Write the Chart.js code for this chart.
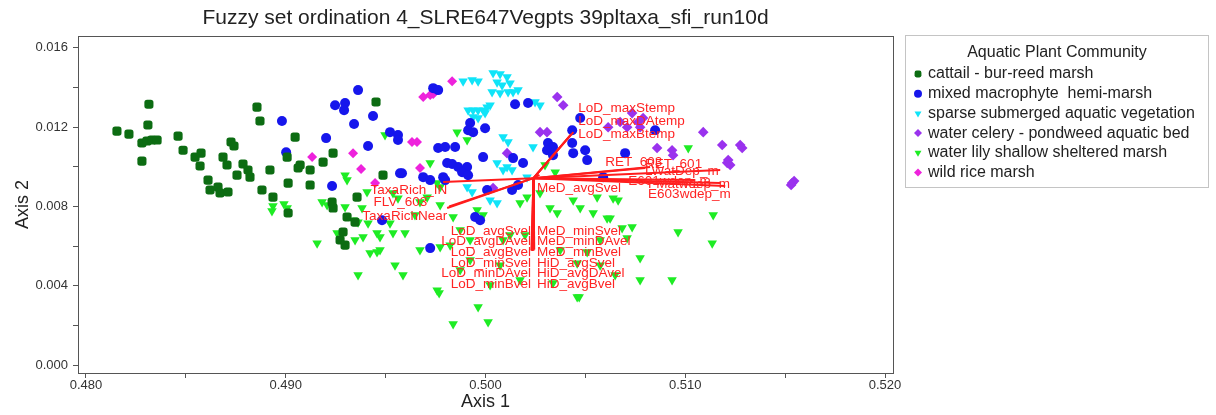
<!DOCTYPE html>
<html>
<head>
<meta charset="utf-8">
<script src="https://cdn.jsdelivr.net/npm/chart.js@4"></script>
<style>
  body { margin: 0; background: #fff; }
  canvas { display: block; }
</style>
</head>
<body>
<canvas id="ordChart" width="1216" height="415"></canvas>
<script>
// axis ticks
const xTicks = [0.480, 0.485, 0.490, 0.495, 0.500, 0.505, 0.510, 0.515, 0.520];
const yTicks = [0.000, 0.002, 0.004, 0.006, 0.008, 0.010, 0.012, 0.014, 0.016];

const communities = [
    "cattail - bur-reed marsh",
    "mixed macrophyte  hemi-marsh",
    "sparse submerged aquatic vegetation",
    "water celery - pondweed aquatic bed",
    "water lily shallow sheltered marsh",
    "wild rice marsh"
];

// plot scores (Axis 1, Axis 2)
const cattail = [
    [0.48155,0.01180],[0.48215,0.01165],[0.48310,0.01211],[0.48315,0.01316],[0.48280,0.01120],[0.48305,0.01130],
    [0.48330,0.01135],[0.48356,0.01135],[0.48280,0.01029],[0.48856,0.01301],[0.48871,0.01231],[0.48461,0.01155],
    [0.48486,0.01084],[0.48546,0.01049],[0.48576,0.01069],[0.48571,0.01004],[0.48726,0.01125],[0.48741,0.01105],
    [0.48686,0.01049],[0.48706,0.01009],[0.48786,0.01014],[0.48756,0.00958],[0.48811,0.00984],[0.48821,0.00948],
    [0.48611,0.00933],[0.48621,0.00883],[0.48661,0.00898],[0.48671,0.00868],[0.48711,0.00873],[0.48921,0.00984],
    [0.48881,0.00883],[0.48936,0.00847],[0.49012,0.00918],[0.49012,0.00767],[0.49047,0.01150],[0.49007,0.01049],
    [0.49072,0.01009],[0.49062,0.00994],[0.49122,0.00984],[0.49122,0.00908],[0.49187,0.01024],[0.49237,0.01069],
    [0.49232,0.00822],[0.49237,0.00792],[0.49307,0.00747],[0.49287,0.00671],[0.49272,0.00631],[0.49357,0.00847],
    [0.49452,0.01327],[0.49487,0.00958],[0.49347,0.00721],[0.49297,0.00605]
];
const mixedMacrophyte = [
    [0.49362,0.01387],[0.49247,0.01311],[0.49297,0.01322],[0.49292,0.01286],[0.48981,0.01231],[0.49342,0.01216],
    [0.49202,0.01145],[0.49002,0.01074],[0.49412,0.01105],[0.49232,0.00903],[0.49437,0.01256],[0.49738,0.01397],
    [0.49763,0.01387],[0.50148,0.01316],[0.50213,0.01322],[0.49522,0.01175],[0.49562,0.01160],[0.49562,0.01135],
    [0.49923,0.01221],[0.49913,0.01185],[0.49938,0.01175],[0.49998,0.01195],[0.49763,0.01095],[0.49798,0.01100],
    [0.49848,0.01100],[0.49808,0.01019],[0.49833,0.01014],[0.49863,0.00999],[0.49908,0.00999],[0.49883,0.00973],
    [0.49913,0.00958],[0.49788,0.00948],[0.49798,0.00933],[0.49688,0.00948],[0.49723,0.00933],[0.49582,0.00968],
    [0.49988,0.01049],[0.50138,0.01044],[0.50188,0.01019],[0.50313,0.01120],[0.50338,0.01100],[0.50308,0.01084],
    [0.50434,0.01120],[0.50499,0.01084],[0.50434,0.01185],[0.50699,0.01069],[0.50849,0.01185],[0.50474,0.01246],
    [0.50008,0.00883],[0.50133,0.00883],[0.50163,0.00908],[0.49948,0.00747],[0.49973,0.00731],[0.49723,0.00590],
    [0.49482,0.00731],[0.50338,0.01059],[0.50439,0.01069],[0.50509,0.01034],[0.50589,0.00948],[0.49572,0.00968]
];
const sparseSubmerged = [
    [0.49888,0.01432],[0.49933,0.01438],[0.49963,0.01432],[0.50038,0.01473],[0.50073,0.01468],[0.50108,0.01453],
    [0.50058,0.01427],[0.50083,0.01412],[0.50123,0.01422],[0.50033,0.01377],[0.50073,0.01372],[0.50113,0.01377],
    [0.50138,0.01377],[0.50163,0.01387],[0.50008,0.01301],[0.50023,0.01311],[0.49988,0.01286],[0.49963,0.01286],
    [0.49938,0.01286],[0.49913,0.01286],[0.50248,0.01327],[0.50273,0.01311],[0.49998,0.01271],[0.49938,0.01251],
    [0.49963,0.01246],[0.50088,0.01150],[0.50113,0.01125],[0.50238,0.01100],[0.50133,0.00984],[0.50108,0.00999],
    [0.50058,0.01019],[0.50088,0.00984],[0.49908,0.00898],[0.49933,0.00873],[0.50023,0.00832],[0.50058,0.00817],
    [0.50208,0.00948]
];
const waterCelery = [
    [0.50359,0.01352],[0.50389,0.01311],[0.50273,0.01175],[0.50308,0.01175],[0.50734,0.01271],[0.50764,0.01226],
    [0.50789,0.01246],[0.50774,0.01200],[0.50709,0.01200],[0.50614,0.01200],[0.51090,0.01175],[0.51185,0.01110],
    [0.50859,0.01095],[0.50934,0.01084],[0.50939,0.01059],[0.50108,0.01069],[0.50038,0.00893],[0.51275,0.01110],
    [0.51285,0.01095],[0.51215,0.01034],[0.51225,0.01009],[0.51210,0.01020],[0.51535,0.00918],[0.51545,0.00928],
    [0.51530,0.00908],[0.50674,0.01226]
];
const waterLily = [
    [0.49297,0.00958],[0.49307,0.00933],[0.48936,0.00802],[0.48931,0.00777],[0.48991,0.00812],[0.49007,0.00792],
    [0.49182,0.00822],[0.49207,0.00807],[0.49297,0.00797],[0.49337,0.00731],[0.49362,0.00721],[0.49407,0.00873],
    [0.49257,0.00666],[0.49387,0.00646],[0.49157,0.00615],[0.49422,0.00565],[0.49457,0.00570],[0.49457,0.00666],
    [0.49382,0.00792],[0.49347,0.00631],[0.49412,0.00716],[0.49522,0.00716],[0.49472,0.00646],[0.49537,0.00666],
    [0.49597,0.00666],[0.49362,0.00454],[0.49472,0.00580],[0.49587,0.00454],[0.49672,0.00580],[0.49758,0.00378],
    [0.49963,0.00293],[0.49723,0.01019],[0.49758,0.00918],[0.49773,0.00898],[0.49708,0.00847],[0.49672,0.00822],
    [0.49773,0.00807],[0.49838,0.00747],[0.49958,0.00782],[0.49988,0.00757],[0.50173,0.00817],[0.50208,0.00847],
    [0.50273,0.00868],[0.50323,0.00792],[0.50359,0.00767],[0.50439,0.00832],[0.50474,0.00792],[0.50539,0.00767],
    [0.50559,0.00847],[0.50639,0.00842],[0.50609,0.00741],[0.50684,0.00691],[0.50709,0.00641],[0.50734,0.00696],
    [0.50964,0.00671],[0.50459,0.00343],[0.50338,0.00414],[0.50198,0.00656],[0.50123,0.00656],[0.50088,0.00631],
    [0.50459,0.00514],[0.50509,0.00570],[0.49773,0.00595],[0.49537,0.00868],[0.49562,0.00842],[0.49768,0.00363],
    [0.49838,0.00207],[0.50013,0.00217],[0.50469,0.00343],[0.50934,0.00429],[0.51135,0.00615],[0.51015,0.01095],
    [0.50574,0.00504],[0.50774,0.00540],[0.49873,0.00479],[0.49923,0.00530],[0.50073,0.00504],[0.50173,0.00429],
    [0.50023,0.00404],[0.49547,0.00504],[0.50298,0.01009],[0.50349,0.00973],[0.49908,0.01135],[0.49858,0.01175],
    [0.49497,0.01160],[0.51140,0.00757],[0.50624,0.00741],[0.50664,0.00832],[0.49647,0.00757],[0.49873,0.00681],
    [0.49923,0.00631],[0.49823,0.00605],[0.50574,0.00631],[0.50374,0.00580],[0.50649,0.00454],[0.50774,0.00429]
];
const wildRice = [
    [0.49833,0.01432],[0.49688,0.01352],[0.49723,0.01362],[0.49738,0.01367],[0.49132,0.01049],[0.49337,0.01069],
    [0.49377,0.00989],[0.49447,0.00918],[0.49632,0.01125],[0.49657,0.01125],[0.49672,0.00994]
];
const seriesData = [cattail, mixedMacrophyte, sparseSubmerged, waterCelery, waterLily, wildRice];

// environmental vectors (joint plot)
const vectorOrigin = [0.50240, 0.00943];
const vectorNames = [
    "LoD_maxStemp", "LoD_maxDAtemp", "LoD_maxBtemp", "TaxaRich_IN", "FLV_603", "TaxaRichNear",
    "MeD_avgSvel", "RET_603", "RET_601", "LWatDep_m", "E601wdep_m", "FMatwdep_m", "E603wdep_m",
    "LoD_avgSvel", "LoD_avgDAvel", "LoD_avgBvel", "LoD_minSvel", "LoD_minDAvel", "LoD_minBvel",
    "MeD_minSvel", "MeD_minDAvel", "MeD_minBvel", "HiD_avgSvel", "HiD_avgDAvel", "HiD_avgBvel"
];
const vectorTipX = [
    0.50440, 0.50430, 0.50425, 0.49788, 0.49808, 0.49818,
    0.50270, 0.50799, 0.50824, 0.51175, 0.51050, 0.51175, 0.51200,
    0.50232, 0.50236, 0.50230, 0.50238, 0.50234, 0.50240,
    0.50242, 0.50238, 0.50236, 0.50240, 0.50244, 0.50238
];
const vectorTipY = [
    0.01175, 0.01165, 0.01160, 0.00923, 0.00792, 0.00800,
    0.00960, 0.00994, 0.00999, 0.00984, 0.00933, 0.00918, 0.00903,
    0.00580, 0.00585, 0.00578, 0.00590, 0.00575, 0.00582,
    0.00588, 0.00580, 0.00586, 0.00577, 0.00583, 0.00579
];
const vectorLabelX = [
    0.50464, 0.50464, 0.50464, 0.49808, 0.49708, 0.49808,
    0.50258, 0.50599, 0.50799, 0.50799, 0.50714, 0.50814, 0.50814,
    0.50228, 0.50228, 0.50228, 0.50228, 0.50228, 0.50228,
    0.50258, 0.50258, 0.50258, 0.50258, 0.50258, 0.50258
];
const vectorLabelY = [
    0.01296, 0.01231, 0.01165, 0.00883, 0.00822, 0.00752,
    0.00893, 0.01024, 0.01014, 0.00979, 0.00928, 0.00913, 0.00863,
    0.00676, 0.00625, 0.00570, 0.00515, 0.00464, 0.00409,
    0.00676, 0.00625, 0.00570, 0.00515, 0.00464, 0.00409
];
const labelSide = [
    "left", "left", "left", "right", "right", "right",
    "left", "left", "left", "left", "left", "left", "left",
    "right", "right", "right", "right", "right", "right",
    "left", "left", "left", "left", "left", "left"
];

const FONT = "'Liberation Sans', Arial, sans-serif";
const seriesStyle = [
    { color: "#0c6c12", shape: "rectRounded", rot: 0, r: 5.3 },
    { color: "#1616ec", shape: "circle", rot: 0, r: 5 },
    { color: "#10e4f8", shape: "triangle", rot: 180, r: 5.5 },
    { color: "#9a32ee", shape: "rectRot", rot: 0, r: 5.3 },
    { color: "#1eec24", shape: "triangle", rot: 180, r: 5.5 },
    { color: "#ee22dc", shape: "rectRot", rot: 0, r: 5 }
];

const datasets = [];
seriesData.forEach((pts, i) => {
    let st = seriesStyle[i];
    datasets.push({
        label: communities[i],
        data: pts.map(p => ({ x: p[0], y: p[1] })),
        backgroundColor: st.color,
        borderWidth: 0,
        pointStyle: st.shape,
        rotation: st.rot,
        pointRadius: st.r,
        order: 1
    });
});
vectorNames.forEach((name, i) => {
    datasets.push({
        label: name,
        data: [{ x: vectorOrigin[0], y: vectorOrigin[1] }, { x: vectorTipX[i], y: vectorTipY[i] }],
        showLine: true,
        borderColor: "#ff1c1c",
        borderWidth: 2,
        pointRadius: 0,
        order: 0
    });
});

const extrasPlugin = {
    id: "extras",
    afterDatasetsDraw(chart) {
        let ctx = chart.ctx;
        let xs = chart.scales.x, ys = chart.scales.y;
        ctx.save();
        ctx.font = "13.5px " + FONT;
        ctx.fillStyle = "#ff2424";
        ctx.textBaseline = "middle";
        vectorNames.forEach((name, i) => {
            ctx.textAlign = labelSide[i];
            ctx.fillText(name, xs.getPixelForValue(vectorLabelX[i]), ys.getPixelForValue(vectorLabelY[i]));
        });
        ctx.restore();
    },
    afterDraw(chart) {
        let ctx = chart.ctx;
        let a = chart.chartArea;
        ctx.save();
        // frame
        ctx.strokeStyle = "#555";
        ctx.lineWidth = 1;
        ctx.strokeRect(Math.round(a.left) + 0.5, Math.round(a.top) + 0.5, Math.round(a.right - a.left), Math.round(a.bottom - a.top));
        // title
        ctx.fillStyle = "#222";
        ctx.font = "21px " + FONT;
        ctx.textAlign = "center";
        ctx.textBaseline = "middle";
        ctx.fillText("Fuzzy set ordination 4_SLRE647Vegpts 39pltaxa_sfi_run10d", (a.left + a.right) / 2, 18);
        // legend
        let lx = a.right + 12, ly = a.top - 1;
        ctx.strokeStyle = "#c4c4c4";
        ctx.strokeRect(lx + 0.5, ly + 0.5, 303, 152);
        ctx.font = "16px " + FONT;
        ctx.fillText("Aquatic Plant Community", lx + 152, ly + 18);
        ctx.textAlign = "left";
        communities.forEach((name, i) => {
            let y = ly + 39 + i * 19.7;
            let st = seriesStyle[i];
            ctx.fillStyle = st.color;
            Chart.helpers.drawPoint(ctx, { pointStyle: st.shape, rotation: st.rot, radius: 4, borderWidth: 0 }, lx + 13, y);
            ctx.fillStyle = "#222";
            ctx.fillText(name, lx + 23, y);
        });
        ctx.restore();
    }
};

new Chart(document.getElementById("ordChart").getContext("2d"), {
    type: "scatter",
    data: { datasets: datasets },
    options: {
        responsive: false,
        animation: false,
        devicePixelRatio: 1,
        layout: { padding: { left: 0, right: 323, top: 36, bottom: 0 } },
        plugins: { legend: { display: false }, tooltip: { enabled: false }, title: { display: false } },
        scales: {
            x: {
                type: "linear",
                min: 0.4796,
                max: 0.5204,
                afterBuildTicks: s => { s.ticks = xTicks.map(v => ({ value: v })); },
                afterFit: s => { s.height = 42; },
                ticks: {
                    autoSkip: false,
                    maxRotation: 0,
                    padding: 0,
                    color: "#333",
                    font: { family: FONT, size: 13 },
                    callback: v => (Math.round(v * 1000) % 10 === 0 ? v.toFixed(3) : "")
                },
                grid: { drawOnChartArea: false, drawTicks: true, tickLength: 5, color: "#555" },
                border: { display: true, color: "#555" },
                title: { display: true, text: "Axis 1", color: "#222", font: { family: FONT, size: 18 }, padding: { top: 0, bottom: 2 } }
            },
            y: {
                type: "linear",
                min: -0.0004,
                max: 0.0166,
                afterBuildTicks: s => { s.ticks = yTicks.map(v => ({ value: v })); },
                afterFit: s => { s.width = 78; },
                ticks: {
                    autoSkip: false,
                    padding: 5,
                    color: "#333",
                    font: { family: FONT, size: 13 },
                    callback: v => (Math.round(v * 1000) % 4 === 0 ? v.toFixed(3) : "")
                },
                grid: { drawOnChartArea: false, drawTicks: true, tickLength: 5, color: "#555" },
                border: { display: true, color: "#555" },
                title: { display: true, text: "Axis 2", color: "#222", font: { family: FONT, size: 18 }, padding: { top: 12, bottom: 0 } }
            }
        }
    },
    plugins: [extrasPlugin]
});
</script>
</body>
</html>
